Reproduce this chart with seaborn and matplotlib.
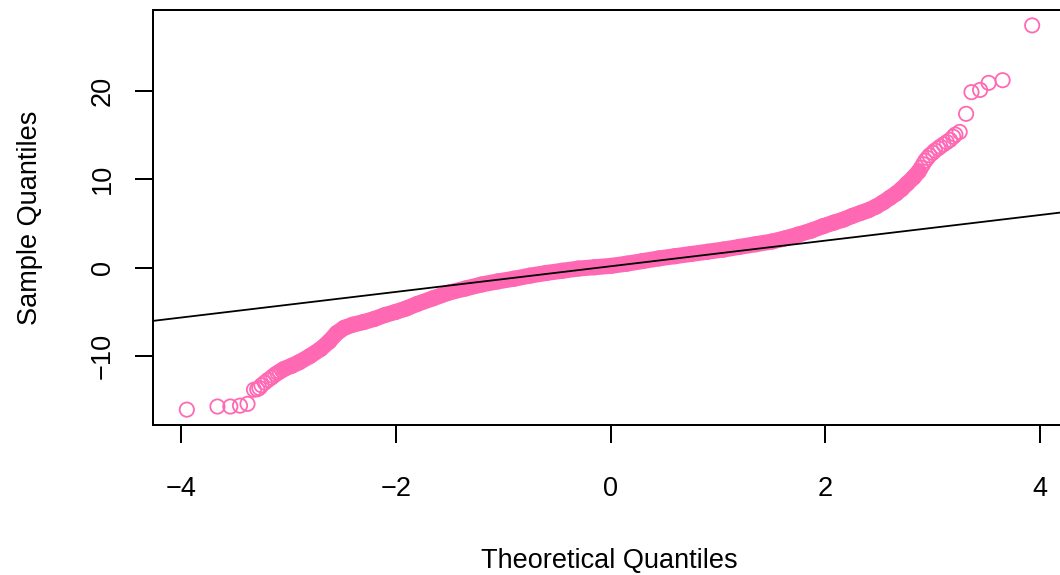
import matplotlib
matplotlib.use("Agg")
import matplotlib.pyplot as plt
import seaborn as sns

# Normal Q-Q plot.
# left tail: separate circles
low_theo = [-3.945, -3.66, -3.54, -3.45, -3.38, -3.32, -3.29, -3.27, -3.25, -3.22,
            -3.19, -3.16, -3.14, -3.12, -3.10, -3.08, -3.06]
low_samp = [-16.05, -15.7, -15.7, -15.6, -15.4, -13.8, -13.75, -13.6, -13.3, -13.0,
            -12.7, -12.45, -12.25, -12.05, -11.9, -11.75, -11.6]

# dense middle: the circles overlap into a solid band
mid_theo = [-3.04, -2.97, -2.90, -2.80, -2.70, -2.62, -2.55, -2.48, -2.40, -2.30,
            -2.20, -2.10, -2.00, -1.90, -1.80, -1.65, -1.50, -1.35, -1.20, -1.05,
            -0.90, -0.75, -0.60, -0.45, -0.30, -0.15, 0.00, 0.15, 0.30, 0.45,
            0.60, 0.75, 0.90, 1.05, 1.20, 1.35, 1.50, 1.62, 1.75, 1.87,
            1.98, 2.08, 2.17, 2.25, 2.33, 2.40, 2.47, 2.54, 2.60, 2.66,
            2.71, 2.76, 2.82, 2.87]
mid_samp = [-11.45, -11.1, -10.7, -10.0, -9.2, -8.35, -7.4, -6.8, -6.45, -6.15,
            -5.8, -5.35, -5.0, -4.6, -4.1, -3.45, -2.8, -2.35, -1.9, -1.55,
            -1.25, -0.9, -0.6, -0.35, -0.1, 0.05, 0.2, 0.45, 0.75, 1.05,
            1.3, 1.55, 1.8, 2.05, 2.35, 2.65, 2.95, 3.3, 3.75, 4.2,
            4.7, 5.1, 5.45, 5.85, 6.2, 6.5, 6.9, 7.4, 7.9, 8.4,
            8.9, 9.5, 10.2, 10.9]

# right tail: separate circles
high_theo = [2.89, 2.91, 2.93, 2.95, 2.97, 3.00, 3.02, 3.05, 3.07, 3.10,
             3.13, 3.16, 3.19, 3.21, 3.25, 3.31, 3.36, 3.44, 3.52, 3.65, 3.925]
high_samp = [11.3, 11.7, 12.1, 12.4, 12.7, 13.0, 13.25, 13.5, 13.7, 13.95,
             14.2, 14.45, 14.8, 15.05, 15.35, 17.4, 19.85, 20.1, 20.9, 21.2, 27.4]

# qqline through the quartiles
line_intercept = 0.16
line_slope = 1.45

x_ticks = [-4, -2, 0, 2, 4]
y_ticks = [-10, 0, 10, 20]

sns.set_style("ticks")
plt.rcParams["font.family"] = ["Liberation Sans", "DejaVu Sans"]
plt.rcParams["text.color"] = "black"
plt.rcParams["axes.labelcolor"] = "black"

PINK = "#FF69B4"
PX = 72 / 100  # points per pixel at dpi 100

fig = plt.figure(figsize=(10.6, 5.75), dpi=100)
ax = fig.add_axes([153 / 1060, 150 / 575, 913 / 1060, 415 / 575])

sns.lineplot(x=mid_theo, y=mid_samp, sort=False, estimator=None, color=PINK,
             lw=16 * PX, solid_capstyle="round", ax=ax)

theo = low_theo + mid_theo + high_theo
samp = low_samp + mid_samp + high_samp
sns.scatterplot(x=theo, y=samp, marker="o", s=(14.3 * PX) ** 2,
                facecolors="none", edgecolor=PINK, linewidth=1.8 * PX, ax=ax)

ax.axline((0, line_intercept), slope=line_slope, color="black", lw=1.8 * PX, zorder=3)

ax.set_xlim(-4.26, 4.24)
ax.set_ylim(-17.79, 29.14)
ax.set_xticks(x_ticks)
ax.set_yticks(y_ticks)

for sp in ax.spines.values():
    sp.set_color("black")
    sp.set_linewidth(2 * PX)

ax.tick_params(length=18 * PX, width=2 * PX, color="black", labelcolor="black",
               labelsize=19.5)
ax.tick_params(axis="x", pad=33 * PX)
ax.tick_params(axis="y", pad=19 * PX, labelrotation=90)
for lab in ax.get_yticklabels():
    lab.set_va("center")

ax.set_xlabel("Theoretical Quantiles", fontsize=19.5, labelpad=46 * PX, color="black")
ax.set_ylabel("Sample Quantiles", fontsize=19.5, labelpad=47 * PX, color="black")

fig.savefig("out.png", dpi=100)
